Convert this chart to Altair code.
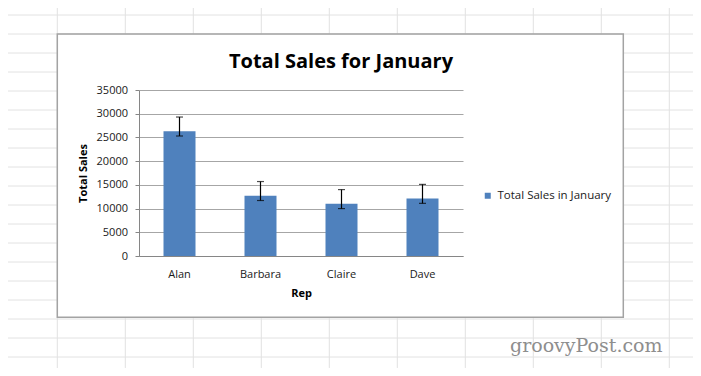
import altair as alt
import pandas as pd

# ---- chart data ----
reps = ["Alan", "Barbara", "Claire", "Dave"]
sales = [26300, 12700, 11000, 12100]
err_plus = [3000, 3000, 3000, 3000]
err_minus = [1000, 1000, 1000, 1000]
series_name = "Total Sales in January"
y_ticks = [0, 5000, 10000, 15000, 20000, 25000, 30000, 35000]
chart_title = "Total Sales for January"
x_title = "Rep"
y_title = "Total Sales"
watermark = "groovyPost.com"

df = pd.DataFrame({
    "Rep": reps,
    "Sales": sales,
    "hi": [s + p for s, p in zip(sales, err_plus)],
    "lo": [s - m for s, m in zip(sales, err_minus)],
    "Series": [series_name] * len(reps),
})

# ---- layout (pixels) ----
W, H = 324, 166
PAD_L, PAD_T = 131, 82
PAGE_W, PAGE_H = 685, 360
PAD_R = PAGE_W - PAD_L - W
PAD_B = PAGE_H - PAD_T - H

FONT = "Open Sans"
BLUE = "#4F81BD"
AXIS_GREY = "#868686"

# chart-area frame (relative to plot origin)
BOX_L, BOX_R, BOX_T, BOX_B = -81.7, 484.3, -56, 227.3
CAN_L, CAN_R, CAN_T, CAN_B = -PAD_L, PAGE_W - PAD_L, -PAD_T, PAGE_H - PAD_T

# spreadsheet cell lines behind the chart (decoration only)
segs = []
col_x = [-81.7 + 68 * k for k in range(10)]
row_y = [-75 + 19 * j for j in range(19)]
for cx in col_x:
    if BOX_L < cx < BOX_R:
        segs.append(dict(x=cx, x2=cx, y=CAN_T, y2=BOX_T))
        segs.append(dict(x=cx, x2=cx, y=BOX_B, y2=CAN_B))
    else:
        segs.append(dict(x=cx, x2=cx, y=CAN_T, y2=CAN_B))
for ry in row_y:
    if BOX_T < ry < BOX_B:
        segs.append(dict(x=CAN_L, x2=BOX_L, y=ry, y2=ry))
        segs.append(dict(x=BOX_R, x2=CAN_R, y=ry, y2=ry))
    else:
        segs.append(dict(x=CAN_L, x2=CAN_R, y=ry, y2=ry))
seg_df = pd.DataFrame(segs)

sheet = alt.Chart(seg_df).mark_rule(color="#e2e2e2", strokeWidth=1).encode(
    x=alt.X("x:Q", scale=None, axis=None),
    x2="x2:Q",
    y=alt.Y("y:Q", scale=None, axis=None),
    y2="y2:Q",
)

frame = alt.Chart(pd.DataFrame({"k": [0]})).mark_rect(
    filled=False, stroke="#a3a3a3", strokeWidth=1.5
).encode(
    x=alt.value(BOX_L), x2=alt.value(BOX_R), y=alt.value(BOX_T), y2=alt.value(BOX_B)
)

mark_wm = alt.Chart(pd.DataFrame({"t": [watermark]})).mark_text(
    font="DejaVu Serif", fontSize=19, color="#8e8e8e", align="left", baseline="alphabetic"
).encode(x=alt.value(371), y=alt.value(261.5), text="t:N")

x_axis = alt.Axis(
    title=x_title, labelAngle=0, ticks=False, labelPadding=12,
    domainColor=AXIS_GREY, domainWidth=1,
    labelFont=FONT, labelFontSize=11, labelColor="#1a1a1a",
    titleFont=FONT, titleFontSize=11, titleFontWeight="bold", titleColor="#000000",
    titleX=W / 2, titleY=40, titleAlign="center", titleBaseline="alphabetic",
)
y_axis = alt.Axis(
    title=y_title, values=y_ticks, format="d", grid=True,
    gridColor="#a6a6a6", gridWidth=1,
    domainColor=AXIS_GREY, domainWidth=1, tickColor=AXIS_GREY, tickSize=4,
    labelPadding=7.5, labelFont=FONT, labelFontSize=11, labelColor="#1a1a1a",
    titleFont=FONT, titleFontSize=11, titleFontWeight="bold", titleColor="#000000",
    titleAngle=270, titleX=-53, titleY=H / 2, titleAlign="center", titleBaseline="alphabetic",
)

x_enc = alt.X("Rep:N", sort=reps, scale=alt.Scale(paddingInner=0, paddingOuter=0), axis=x_axis)
y_scale = alt.Scale(domain=[0, 35000], nice=False)

base = alt.Chart(df)

bars = base.mark_bar(size=32).encode(
    x=x_enc,
    y=alt.Y("Sales:Q", scale=y_scale, axis=y_axis),
    color=alt.Color(
        "Series:N",
        scale=alt.Scale(range=[BLUE]),
        legend=alt.Legend(
            title=None, orient="none", legendX=343, legendY=100, padding=0,
            symbolType="square", symbolSize=36, symbolStrokeWidth=0, labelOffset=4,
            labelFont=FONT, labelFontSize=11.5, labelColor="#1a1a1a",
        ),
    ),
)

err_line = base.mark_rule(color="#000000", strokeWidth=1.2).encode(
    x=x_enc, y=alt.Y("lo:Q", scale=y_scale, axis=y_axis), y2="hi:Q"
)
cap_hi = base.mark_tick(color="#000000", thickness=1.2, size=7, orient="horizontal").encode(
    x=x_enc, y=alt.Y("hi:Q", scale=y_scale, axis=y_axis)
)
cap_lo = base.mark_tick(color="#000000", thickness=1.2, size=7, orient="horizontal").encode(
    x=x_enc, y=alt.Y("lo:Q", scale=y_scale, axis=y_axis)
)

chart = alt.layer(sheet, frame, mark_wm, bars, err_line, cap_hi, cap_lo).properties(
    width=W, height=H,
    padding={"left": PAD_L, "top": PAD_T, "right": PAD_R, "bottom": PAD_B},
    autosize=alt.AutoSizeParams(type="none"),
    background="white",
    title=alt.TitleParams(
        chart_title, font=FONT, fontSize=20, fontWeight="bold", color="#000000",
        anchor="middle", frame="group", dx=40, offset=-80.3, baseline="alphabetic",
    ),
).configure_view(stroke=None)

chart.save("out.html", embed_options={"renderer": "svg", "actions": False})
